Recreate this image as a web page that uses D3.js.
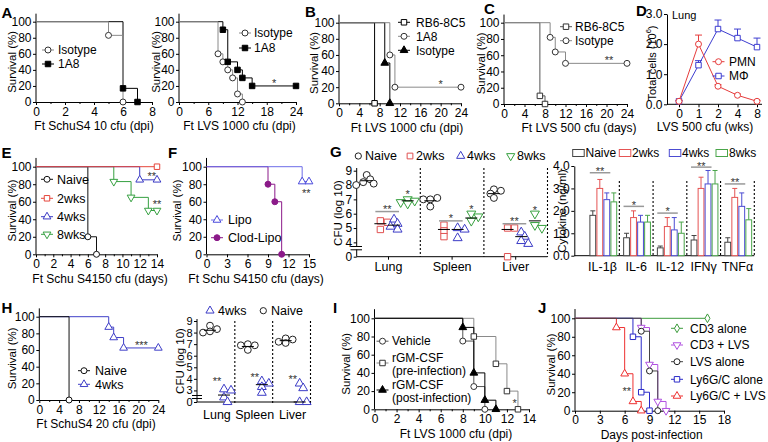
<!DOCTYPE html>
<html><head><meta charset="utf-8">
<script src="https://cdn.jsdelivr.net/npm/d3@7"></script>
<style>body{margin:0;background:#fff}svg{display:block}</style>
</head><body>
<script>
// ================= DATA =================
// Survival curves: [day, % surviving]
const A1_isotype = [[0,100],[5,83],[6,0]];
const A1_1A8     = [[0,100],[6,17],[7,0]];
const A2_isotype = [[0,100],[8,60],[9,50],[10,40],[11,30],[12,10],[13,0]];
const A2_1A8     = [[0,100],[9,90],[10,50],[12,40],[13,30],[15,20],[24,20]];
const B_rb6      = [[0,100],[7,0]];
const B_1A8      = [[0,100],[10,60],[11,20],[24,20]];
const B_isotype  = [[0,100],[9,50],[10,0]];
const C_rb6      = [[0,100],[7,10],[8,0]];
const C_isotype  = [[0,100],[9,82],[10,64],[12,50],[24,50]];
const E_naive    = [[0,100],[6,20],[7,0]];
const E_2wks     = [[0,100],[14,100]];
const E_4wks     = [[0,100],[12,85],[14,85]];
const E_8wks     = [[0,100],[9,83],[11,65],[13,50],[14,50]];
const F_lipo     = [[0,100],[14,83],[15,83]];
const F_clod     = [[0,100],[9,80],[10,60],[11,0]];
const H_naive    = [[0,100],[6,0]];
const H_4wks     = [[0,100],[14,87.5],[15,75],[17,62.5],[24,62.5]];
const I_vehicle  = [[0,100],[8,75],[9,25],[10,0]];
const I_pre      = [[0,100],[9,80],[11,50],[12,20],[13,0]];
const I_post     = [[0,100],[8,90],[9,40],[10,10],[11,0]];
const J_cd3      = [[0,100],[16,100]];
const J_cd3lvs   = [[0,100],[8,90],[9,50],[10,10],[11,0]];
const J_lvs      = [[0,100],[8,86],[9,43],[10,0]];
const J_ly       = [[0,100],[7,80],[8,20],[9,0]];
const J_lylvs    = [[0,100],[5,90],[6,40],[7,10],[8,0]];

// D: lung cells (10^6)
const D_weeks  = ["0","1","2","4","8"];
const D_pmn    = [0.1,2.0,0.6,0.3,0.1];
const D_pmnErr = [0.02,0.3,0.05,0.04,0.03];
const D_mac    = [0.1,1.3,2.5,2.2,1.9];
const D_macErr = [0.02,0.15,0.3,0.3,0.3];

// G: CFU (log10); per organ, per cohort [Naive, 2wks, 4wks, 8wks]
const G_organs  = ["Lung","Spleen","Liver"];
const G_cohorts = ["Naive","2wks","4wks","8wks"];
const G_lung    = [[8.7,8.4,8.2,8.1,8.0],[5.5,5.4,4.9],[5.6,5.3,5.1,4.9],[7.0,6.9,6.8,6.7]];
const G_spleen  = [[7.0,7.1,7.0,6.5],[5.2,4.8,4.4],[5.0,4.9,4.3],[6.0,5.8,5.5]];
const G_liver   = [[7.7,7.6,7.4,7.1],[5.0,5.0,0],[4.7,4.4,4.1,3.9],[6.0,5.2,5.0]];
const G_means   = [[8.3,5.3,5.2,6.9],[6.9,4.9,4.9,5.7],[7.4,4.9,4.4,5.5]];
const G_sigBar  = [6.15,5.5,5.3];
const G_sigText = ["**","*","**"];
const G_star8   = [7.55,6.5,6.45];

// G right: cytokines (ng/ml)
const CK_cats     = ["IL-1β","IL-6","IL-12","IFNγ","TNFα"];
const CK_naive    = [1.8,0.8,0.35,0.7,0.6];
const CK_naiveErr = [0.2,0.2,0.08,0.2,0.2];
const CK_2wks     = [3.0,1.7,1.3,3.0,2.6];
const CK_2wksErr  = [0.4,0.3,0.4,0.5,0.4];
const CK_4wks     = [2.5,1.5,1.15,3.2,2.2];
const CK_4wksErr  = [0.3,0.3,0.55,0.6,0.6];
const CK_8wks     = [2.4,1.5,1.0,3.2,1.6];
const CK_8wksErr  = [0.4,0.3,0.5,0.6,0.5];
const CK_sig      = [3.7,2.2,1.9,3.95,3.2];
const CK_sigText  = ["**","*","*","**","**"];

// H right: CFU (log10), cohorts [Naive, 4wks]
const H_cohorts = ["Naive","4wks"];
const H_lung    = [[8.6,8.3,8.1,8.0],[3.1,3.0,2.4,0]];
const H_spleen  = [[7.0,6.9,6.9,6.5],[3.8,3.6,3.3,2.8]];
const H_liver   = [[7.5,7.4,7.2,7.1],[3.6,3.2,0,0]];
const H_means   = [[8.2,2.6],[6.8,3.5],[7.3,0]];
const H_star    = [4.0,4.4,4.2];

// ================= DRAWING =================
const FONT = '"Liberation Sans", Arial, Helvetica, sans-serif';
const svg = d3.select("body").append("svg").attr("width",768).attr("height",442)
  .attr("font-family",FONT);

const SYM  = {circle:d3.symbolCircle, square:d3.symbolSquare, tri:d3.symbolTriangle, triDown:d3.symbolTriangle, diamond:d3.symbolDiamond};
const SIZE = {circle:28, square:30, tri:26, triDown:26, diamond:22};
const YT = 11.5; // y-title font size

function marker(g,x,y,s,k){
  k = k||1;
  g.append("path").attr("d", d3.symbol().type(SYM[s.shape]).size(SIZE[s.shape]*k)())
   .attr("transform", `translate(${x},${y})` + (s.shape==="triDown" ? " rotate(180)" : ""))
   .attr("fill", s.filled ? s.color : "#fff").attr("stroke", s.color).attr("stroke-width",1);
}
function txt(g,x,y,t,o){
  o = o||{};
  return g.append("text").attr("x",x).attr("y",y).attr("dy",o.dy||"0.35em")
    .attr("text-anchor",o.anchor||"start").attr("font-size",o.fs||12)
    .attr("font-weight",o.bold?"bold":null).attr("fill",o.fill||"#000").text(t);
}
function ytitle(g,x,y,t,fs){
  return g.append("text").attr("transform",`translate(${x},${y}) rotate(-90)`)
    .attr("text-anchor","middle").attr("dy","0.35em").attr("font-size",fs||YT).text(t);
}
function star(g,x,y,t){
  txt(g,x,y,t,{anchor:"middle",fs:11,fill:"#333",dy:"0.58em"});
}
function letter(t,x,y){ txt(svg,x,y,t,{fs:15,bold:true,dy:0}); }
function styleAxis(a,fs){
  a.attr("font-family",FONT).attr("font-size",fs||12);
  a.selectAll("text").attr("fill","#000");
  a.selectAll("line").attr("stroke","#000");
  a.select(".domain").attr("stroke","#000");
}
function legendItem(g,lx,ly,s,label,tx,fs){
  g.append("line").attr("x1",lx-6).attr("x2",lx+6).attr("y1",ly).attr("y2",ly)
   .attr("stroke",s.line||s.color).attr("stroke-width",1);
  marker(g,lx,ly,s);
  if(label!==null) txt(g,tx,ly,label,{fs:fs||12});
}

function survival(c){
  const g = svg.append("g");
  const x = d3.scaleLinear().domain(c.xd).range(c.xr);
  const y = d3.scaleLinear().domain([0,100]).range([c.y0,c.y100]);
  const ya = g.append("g").attr("transform",`translate(${c.xr[0]},0)`)
    .call(d3.axisLeft(y).tickValues([0,20,40,60,80,100]).tickSize(3).tickPadding(1.5).tickSizeOuter(0));
  ya.select(".domain").attr("d",`M0,${c.y0}V${y(110)}`);
  styleAxis(ya);
  const xa = g.append("g").attr("transform",`translate(0,${c.y0})`)
    .call(d3.axisBottom(x).tickValues(c.xt).tickSize(3).tickPadding(2).tickSizeOuter(0));
  styleAxis(xa);
  if(c.xm){
    const m = g.append("g").attr("transform",`translate(0,${c.y0})`)
      .call(d3.axisBottom(x).tickValues(c.xm).tickSize(2).tickFormat(""));
    m.select(".domain").remove(); m.selectAll("line").attr("stroke","#000");
  }
  ytitle(g,c.ytx,(c.y0+c.y100)/2,"Survival (%)");
  txt(g,c.xtx,c.y0+24,c.xtitle,{anchor:"middle"});
  const line = d3.line().x(d=>x(d[0])).y(d=>y(d[1])).curve(d3.curveStepAfter);
  c.series.slice().sort((a,b)=>(a.z||0)-(b.z||0)).forEach(s=>{
    g.append("path").attr("d",line(s.data)).attr("fill","none")
     .attr("stroke",s.line||s.color).attr("stroke-width",1);
  });
  c.series.forEach(s=> s.data.slice(1).forEach(d=> marker(g,x(d[0]),y(d[1]),s)));
  if(c.legend) c.series.forEach((s,i)=> legendItem(g,c.legend.x,c.legend.ys[i],s,s.label,c.legend.tx,c.legend.fs));
  (c.stars||[]).forEach(st=> star(g,x(st.x),y(st.y),st.t));
  return {g,x,y};
}

const GRAY = "#8a8a8a";
// ---- A ----
letter("A",1.5,13);
survival({xr:[36,152],xd:[0,8],xt:[0,2,4,6,8],xm:[1,3,5,7],y0:102,y100:21.7,ytx:11.5,xtx:94,
  xtitle:"Ft SchuS4 10 cfu (dpi)",
  series:[{data:A1_isotype,label:"Isotype",color:"#333",line:GRAY,shape:"circle",z:2},
          {data:A1_1A8,label:"1A8",color:"#000",shape:"square",filled:true,z:1}],
  legend:{x:48,ys:[50,64],tx:58}});
survival({xr:[179,296],xd:[0,24],xt:[0,6,12,18,24],xm:[3,9,15,21],y0:102,y100:21.7,ytx:156,xtx:239.5,
  xtitle:"Ft LVS 1000 cfu (dpi)",
  series:[{data:A2_isotype,label:"Isotype",color:"#333",line:GRAY,shape:"circle",z:2},
          {data:A2_1A8,label:"1A8",color:"#000",shape:"square",filled:true,z:1}],
  legend:{x:245,ys:[33,48],tx:254},stars:[{x:19.5,y:27,t:"*"}]});
// ---- B ----
letter("B",305,12);
survival({xr:[339,461],xd:[0,24],xt:[0,4,8,12,16,20,24],xm:[2,6,10,14,18,22],y0:103.3,y100:22.7,ytx:314,xtx:407,
  xtitle:"Ft LVS 1000 cfu (dpi)",
  series:[{data:B_rb6,label:"RB6-8C5",color:"#000",shape:"square",z:1},
          {data:B_1A8,label:"1A8",color:"#333",line:GRAY,shape:"circle",z:3},
          {data:B_isotype,label:"Isotype",color:"#000",shape:"tri",filled:true,z:2}],
  legend:{x:404,ys:[22.3,36.3,50.3],tx:416},stars:[{x:20,y:27,t:"*"}]});
// ---- C ----
letter("C",484,8.5);
survival({xr:[504,627],xd:[0,24],xt:[0,4,8,12,16,20,24],xm:[2,6,10,14,18,22],y0:104,y100:22.7,ytx:480.5,xtx:579,
  xtitle:"Ft LVS 500 cfu (days)",
  series:[{data:C_rb6,label:"RB6-8C5",color:"#333",line:"#555",shape:"square",z:1},
          {data:C_isotype,label:"Isotype",color:"#333",line:GRAY,shape:"circle",z:2}],
  legend:{x:566,ys:[26.7,40.7],tx:575},stars:[{x:20.5,y:57,t:"**"}]});

// ---- D ----
letter("D",636,10.5);
(function(){
  const g = svg.append("g");
  const x = d3.scalePoint().domain(D_weeks).range([679,757]);
  const y = d3.scaleLinear().domain([0,3]).range([104.3,14]);
  const ya = g.append("g").attr("transform","translate(667,0)")
    .call(d3.axisLeft(y).tickValues([0,1,2,3]).tickSize(3).tickPadding(1.5).tickSizeOuter(0));
  styleAxis(ya);
  const xa = g.append("g").attr("transform","translate(0,104.3)")
    .call(d3.axisBottom(x).tickSize(3).tickPadding(2).tickSizeOuter(0));
  xa.select(".domain").attr("d","M667,0H762");
  styleAxis(xa);
  const series = [
    {v:D_mac,e:D_macErr,color:"#3d3dd0",shape:"square",label:"MΦ"},
    {v:D_pmn,e:D_pmnErr,color:"#e63c3c",shape:"circle",label:"PMN"}];
  series.forEach(s=>{
    D_weeks.forEach((w,i)=>{
      const cx=x(w), t=y(s.v[i]+s.e[i]);
      g.append("line").attr("x1",cx).attr("x2",cx).attr("y1",y(s.v[i])).attr("y2",t).attr("stroke",s.color);
      g.append("line").attr("x1",cx-3.5).attr("x2",cx+3.5).attr("y1",t).attr("y2",t).attr("stroke",s.color);
    });
    g.append("path").attr("d",d3.line().x((d,i)=>x(D_weeks[i])).y(d=>y(d))(s.v))
     .attr("fill","none").attr("stroke",s.color).attr("stroke-width",1);
  });
  series.forEach(s=> s.v.forEach((v,i)=> marker(g,x(D_weeks[i]),y(v),s)));
  legendItem(g,718.5,61.7,series[1],"PMN",729);
  legendItem(g,718.5,76,series[0],"MΦ",729);
  txt(g,672,15,"Lung",{fs:11});
  const yt = g.append("text").attr("transform","translate(652,63) rotate(-90)")
    .attr("text-anchor","middle").attr("dy","0.35em").attr("font-size",11);
  yt.append("tspan").text("Total cells (10");
  yt.append("tspan").attr("font-size",7.5).attr("dy",-4.5).text("6");
  yt.append("tspan").attr("dy",4.5).text(")");
  txt(g,705,127,"LVS 500 cfu (wks)",{anchor:"middle"});
})();

// ---- E ----
letter("E",1.5,153);
survival({xr:[36,157],xd:[0,14],xt:[0,2,4,6,8,10,12,14],xm:[1,3,5,7,9,11,13],y0:254.3,y100:166.7,ytx:11.5,xtx:100,
  xtitle:"Ft Schu S4150 cfu (days)",
  series:[{data:E_naive,label:"Naive",color:"#111",shape:"circle",z:1},
          {data:E_2wks,label:"2wks",color:"#e5453b",shape:"square",z:4},
          {data:E_4wks,label:"4wks",color:"#3a3ac4",shape:"tri",z:3},
          {data:E_8wks,label:"8wks",color:"#35a040",shape:"triDown",z:2}],
  legend:{x:47,ys:[179.3,198.3,216.7,234.3],tx:57,fs:12.5},
  stars:[{x:13.4,y:92.5,t:"**"},{x:14,y:60,t:"**"}]});
// ---- F ----
letter("F",168,153);
survival({xr:[206.5,309],xd:[0,15],xt:[0,3,6,9,12,15],y0:254.3,y100:166.7,ytx:177,xtx:256,
  xtitle:"Ft Schu S4150 cfu (days)",
  series:[{data:F_lipo,label:"Lipo",color:"#4848dc",line:"#6d6de8",shape:"tri",z:2},
          {data:F_clod,label:"Clod-Lipo",color:"#8b1a89",shape:"circle",filled:true,z:1}],
  legend:{x:217,ys:[220,237.7],tx:228,fs:12.5},stars:[{x:14.6,y:72.6,t:"**"}]});

// ---- G left (CFU) ----
letter("G",330,152);
(function(){
  const g = svg.append("g");
  const xo = d3.scaleBand().domain(G_organs).range([356.7,547.5]);
  const xc = d3.scalePoint().domain(G_cohorts).range([10,51]);
  const y = d3.scaleLinear().domain([3,9]).range([256.7,170.7]);
  const yv = v => y(Math.max(v,3));
  const ya = g.append("g").attr("transform","translate(356.7,0)")
    .call(d3.axisLeft(y).tickValues([3,4,5,6,7,8,9]).tickFormat(d=>d===3?"0":d).tickSize(3).tickPadding(1.5).tickSizeOuter(0));
  ya.select(".domain").attr("d","M0,256.7V168");
  styleAxis(ya);
  g.append("rect").attr("x",355).attr("y",247).attr("width",4).attr("height",2.5).attr("fill","#fff");
  [246.5,249.8].forEach(yy=> g.append("line").attr("x1",350.5).attr("x2",362).attr("y1",yy).attr("y2",yy).attr("stroke","#000"));
  g.append("line").attr("x1",356.7).attr("x2",547.5).attr("y1",256.7).attr("y2",256.7).attr("stroke","#000");
  G_organs.forEach(o=>{
    const cx = xo(o)+xo.bandwidth()/2;
    g.append("line").attr("x1",cx).attr("x2",cx).attr("y1",256.7).attr("y2",259.7).attr("stroke","#000");
    txt(g,cx,267,o,{anchor:"middle",fs:12.5});
    const sx = xo(o)+xo.bandwidth();
    g.append("line").attr("x1",sx).attr("x2",sx).attr("y1",168).attr("y2",256.7)
      .attr("stroke","#000").attr("stroke-width",1.1).attr("stroke-dasharray","2,2");
  });
  ytitle(g,337.5,213,"CFU (log 10)");
  const styles = [{shape:"circle",color:"#222"},{shape:"square",color:"#e05050"},
                  {shape:"tri",color:"#3b3bc6"},{shape:"triDown",color:"#36a03e"}];
  [G_lung,G_spleen,G_liver].forEach((od,oi)=>{
    const o = G_organs[oi];
    od.forEach((vals,ci)=>{
      const cx = xo(o)+xc(G_cohorts[ci]);
      const placed=[];
      vals.forEach(v=>{
        const py=yv(v); let px=cx;
        for(const off of [0,3.5,-3.5,7,-7,10.5,-10.5]){
          if(placed.every(p=>Math.hypot(p[0]-(cx+off),p[1]-py)>=5)){px=cx+off;break;}
        }
        placed.push([px,py]);
      });
      placed.forEach(p=>marker(g,p[0],p[1],styles[ci],1.35));
      const my=yv(G_means[oi][ci]);
      g.append("line").attr("x1",cx-6).attr("x2",cx+6).attr("y1",my).attr("y2",my).attr("stroke","#000");
    });
    const x1=xo(o)+xc("2wks")-5, x2=xo(o)+xc("4wks")+5, by=y(G_sigBar[oi]);
    g.append("line").attr("x1",x1).attr("x2",x2).attr("y1",by).attr("y2",by).attr("stroke","#999").attr("stroke-width",1.5);
    star(g,(x1+x2)/2,by-5,G_sigText[oi]);
    star(g,xo(o)+xc("8wks"),y(G_star8[oi]),"*");
  });
  const lg = [[358.3,365,"Naive"],[410,416,"2wks"],[460.7,467,"4wks"],[510.7,517,"8wks"]];
  lg.forEach((l,i)=>{ marker(g,l[0],156,styles[i],1.1); txt(g,l[1],156,l[2],{fs:12.5}); });
})();

// ---- G right (cytokines) ----
(function(){
  const g = svg.append("g");
  const xb = d3.scaleBand().domain(CK_cats).range([585.6,754.3]);
  const xs = d3.scaleBand().domain(G_cohorts).range([3.7,31.7]);
  const y = d3.scaleLinear().domain([0,4]).range([255.7,166]);
  const ya = g.append("g").attr("transform","translate(574.3,0)")
    .call(d3.axisLeft(y).tickValues([0,1,2,3,4]).tickSize(3).tickPadding(1.5).tickSizeOuter(0));
  styleAxis(ya);
  g.append("line").attr("x1",574.3).attr("x2",754.3).attr("y1",255.7).attr("y2",255.7).attr("stroke","#000");
  ytitle(g,561.5,211,"Cytokine (ng/ml)");
  const vals=[CK_naive,CK_2wks,CK_4wks,CK_8wks], errs=[CK_naiveErr,CK_2wksErr,CK_4wksErr,CK_8wksErr];
  const cols=["#444","#e55353","#4c4cd2","#4aa54a"];
  CK_cats.forEach((c,i)=>{
    G_cohorts.forEach((k,j)=>{
      const bx=xb(c)+xs(k)+0.6, bw=xs.bandwidth()-1.2, cx=bx+bw/2;
      const t=y(vals[j][i]), et=y(vals[j][i]+errs[j][i]);
      g.append("line").attr("x1",cx).attr("x2",cx).attr("y1",t).attr("y2",et).attr("stroke",cols[j]);
      g.append("line").attr("x1",cx-2.5).attr("x2",cx+2.5).attr("y1",et).attr("y2",et).attr("stroke",cols[j]);
      g.append("rect").attr("x",bx).attr("y",t).attr("width",bw).attr("height",255.7-t)
        .attr("fill","#fff").attr("stroke",cols[j]).attr("stroke-width",1);
    });
    const sx=xb(c)+xb.bandwidth();
    g.append("line").attr("x1",sx).attr("x2",sx).attr("y1",181).attr("y2",255.7)
      .attr("stroke","#000").attr("stroke-width",1.1).attr("stroke-dasharray","2,2");
    txt(g,xb(c)+xb.bandwidth()/2,267,c,{anchor:"middle",fs:12.5});
    const x1=xb(c)+xs("Naive")+0.5, x2=xb(c)+xs("4wks")+xs.bandwidth(), by=y(CK_sig[i]);
    g.append("line").attr("x1",x1).attr("x2",x2).attr("y1",by).attr("y2",by).attr("stroke","#999").attr("stroke-width",1.5);
    star(g,(x1+x2)/2,by-4,CK_sigText[i]);
  });
  const lg=[[572.7,585.5,"Naive"],[619.3,632,"2wks"],[669.3,682,"4wks"],[716,729,"8wks"]];
  lg.forEach((l,i)=>{
    g.append("rect").attr("x",l[0]).attr("y",149.5).attr("width",11.5).attr("height",7)
      .attr("fill","#fff").attr("stroke",cols[i]);
    txt(g,l[1],153,l[2],{fs:12});
  });
})();

// ---- H ----
letter("H",1.5,308);
survival({xr:[39.3,158.3],xd:[0,24],xt:[0,4,8,12,16,20,24],xm:[2,6,10,14,18,22],y0:400,y100:316.7,ytx:11.5,xtx:96,
  xtitle:"Ft SchuS4 20 cfu (dpi)",
  series:[{data:H_naive,label:"Naive",color:"#111",shape:"circle",z:2},
          {data:H_4wks,label:"4wks",color:"#4040c8",shape:"tri",z:1}],
  legend:{x:84,ys:[370.7,384.3],tx:95,fs:12.5},stars:[{x:20.6,y:69,t:"***"}]});
(function(){
  const g = svg.append("g");
  const xo = d3.scaleBand().domain(G_organs).range([197,310.5]);
  const xc = d3.scalePoint().domain(H_cohorts).range([13,27]);
  const y = d3.scaleLinear().domain([2,9]).range([402,321]);
  const yv = v => y(Math.max(v,2));
  const ya = g.append("g").attr("transform","translate(197,0)")
    .call(d3.axisLeft(y).tickValues([2,3,4,5,6,7,8,9]).tickFormat(d=>d===2?"0":d).tickSize(3).tickPadding(1.5).tickSizeOuter(0));
  ya.select(".domain").attr("d","M0,402V319");
  styleAxis(ya,11);
  [395.5,398.5].forEach(yy=> g.append("line").attr("x1",192).attr("x2",202).attr("y1",yy).attr("y2",yy).attr("stroke","#000"));
  g.append("line").attr("x1",197).attr("x2",310.5).attr("y1",402).attr("y2",402).attr("stroke","#000");
  G_organs.forEach(o=>{
    const sx=xo(o)+xo.bandwidth();
    g.append("line").attr("x1",sx).attr("x2",sx).attr("y1",321).attr("y2",403)
      .attr("stroke","#000").attr("stroke-width",1.1).attr("stroke-dasharray","2,2");
    txt(g,xo(o)+xo.bandwidth()/2+1,415,o,{anchor:"middle",fs:12.5});
  });
  ytitle(g,179.5,361,"CFU (log 10)");
  const styles=[{shape:"circle",color:"#222"},{shape:"tri",color:"#3b3bc6"}];
  [H_lung,H_spleen,H_liver].forEach((od,oi)=>{
    const o=G_organs[oi];
    od.forEach((vals,ci)=>{
      const cx=xo(o)+xc(H_cohorts[ci]);
      const placed=[];
      vals.forEach(v=>{
        const py=yv(v); let px=cx;
        for(const off of [0,3.5,-3.5,7,-7,10.5,-10.5]){
          if(placed.every(p=>Math.hypot(p[0]-(cx+off),p[1]-py)>=5)){px=cx+off;break;}
        }
        placed.push([px,py]);
      });
      placed.forEach(p=>marker(g,p[0],p[1],styles[ci],1.3));
      const my=yv(H_means[oi][ci]);
      g.append("line").attr("x1",cx-6).attr("x2",cx+6).attr("y1",my).attr("y2",my).attr("stroke","#000");
    });
    star(g,xo(o)+(xc("Naive")+xc("4wks"))/2,y(H_star[oi]),"**");
  });
  marker(g,210,310.7,styles[1],1.1); txt(g,218,310.7,"4wks",{fs:12.5});
  marker(g,263.3,310.7,styles[0],1.1); txt(g,271,310.7,"Naive",{fs:12.5});
})();

// ---- I ----
letter("I",333,308);
(function(){
  const sv={data:I_vehicle,color:"#333",line:"#555",shape:"circle",z:1};
  const sp={data:I_pre,color:"#333",line:GRAY,shape:"square",z:2};
  const sq={data:I_post,color:"#000",shape:"tri",filled:true,z:3};
  const r = survival({xr:[374.5,529],xd:[0,14],xt:[0,2,4,6,8,10,12,14],xm:[1,3,5,7,9,11,13],y0:409.3,y100:318.3,ytx:346,xtx:456,
    xtitle:"Ft LVS 1000 cfu (dpi)",series:[sv,sp,sq],stars:[{x:12.7,y:10,t:"*"}]});
  const g=r.g;
  legendItem(g,382.5,341.2,sv,"Vehicle",392);
  legendItem(g,382.5,363,sp,null);
  txt(g,392,357.3,"rGM-CSF"); txt(g,392,370.8,"(pre-infection)");
  legendItem(g,382.5,390,sq,null);
  txt(g,392,384.3,"rGM-CSF"); txt(g,392,397.8,"(post-infection)");
})();

// ---- J ----
letter("J",538,308);
survival({xr:[575,724],xd:[0,18],xt:[0,3,6,9,12,15,18],y0:410.7,y100:318.3,ytx:550.5,xtx:651.7,
  xtitle:"Days post-infection",
  series:[{data:J_cd3,label:"CD3 alone",color:"#3c9c3c",shape:"diamond",z:1},
          {data:J_cd3lvs,label:"CD3 + LVS",color:"#b050e0",shape:"triDown",z:2},
          {data:J_lvs,label:"LVS alone",color:"#222",line:"#444",shape:"circle",z:5},
          {data:J_ly,label:"Ly6G/C alone",color:"#2a2ac8",shape:"square",z:3},
          {data:J_lylvs,label:"Ly6G/C + LVS",color:"#ee3030",shape:"tri",z:4}],
  legend:{x:677,ys:[328.3,345,361.7,379.3,396],tx:690},stars:[{x:6.25,y:24,t:"**"}]});
</script>
</body></html>
